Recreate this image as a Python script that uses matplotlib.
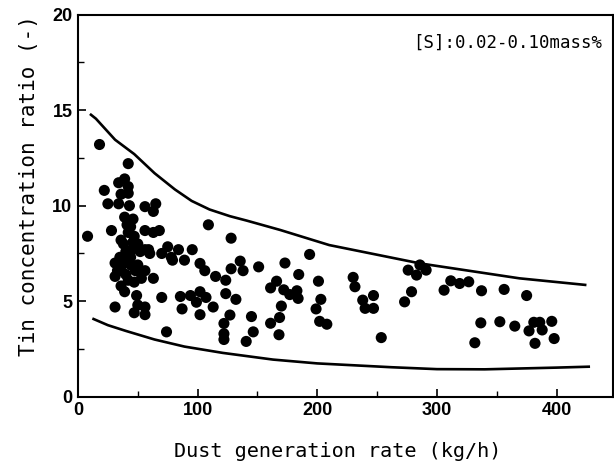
import matplotlib
matplotlib.use("Agg")
import matplotlib.pyplot as plt
from matplotlib.ticker import MultipleLocator
from matplotlib import font_manager

# Scatter data: dust generation rate (kg/h) vs tin concentration ratio (-)
rate = [8, 18, 22, 25, 28, 31, 31, 31, 34, 34, 36, 36, 36, 36, 39, 39, 39,
        42, 42, 42, 42, 42, 42, 43, 45, 46, 47, 49, 50, 50, 50, 47, 53,
        56, 56, 56, 56, 56, 56, 63, 63, 63, 65, 68, 70, 70, 75, 78, 74,
        33, 40, 44, 38, 47, 60,
        38, 44, 40, 46, 41, 44, 35, 48, 52, 59,
        84, 79, 89, 95.5, 85.6, 87, 94, 102, 102, 99, 107, 113, 102, 106,
        109, 115, 123.5, 128, 128, 135.6, 138, 123.5, 132, 127, 122, 122,
        122, 145, 146.5, 140.6, 151, 161, 166, 173, 161, 168.5, 168, 170,
        177, 183, 184, 184.5, 193.6, 172, 201, 203, 199, 202, 208,
        230, 231.5, 238, 240, 247, 247, 253.5, 273, 278.8, 276, 283,
        285.8, 291, 306, 311.6, 319, 326.6, 337.3, 336.7, 331.7, 356.2,
        352.6, 365.1, 375, 377, 381, 382, 386, 388, 396, 398]
ratio = [8.4, 13.2, 10.8, 10.1, 8.7, 7.0, 6.3, 4.7, 11.2, 10.1, 10.6, 8.2,
         6.6, 5.8, 11.4, 9.4, 5.5, 12.2, 11.0, 10.65, 8.6, 7.2, 6.1, 10.0,
         7.7, 9.3, 8.4, 5.3, 8.0, 6.9, 4.8, 4.4, 6.2, 9.95, 8.7, 7.7, 6.6,
         4.7, 4.3, 9.7, 8.6, 6.2, 10.1, 8.7, 7.5, 5.2, 7.85, 7.3, 3.4,
         6.6, 7.6, 8.9, 7.0, 6.0, 7.5,
         8.0, 7.3, 6.4, 8.1, 9.0, 6.9, 7.3, 6.6, 7.6, 7.7,
         7.7, 7.15, 7.15, 7.7, 5.25, 4.6, 5.3, 5.5, 4.3, 4.95, 5.2, 4.7,
         6.98, 6.6, 9.0, 6.3, 6.1, 8.3, 6.7, 7.1, 6.6, 5.4, 5.1, 4.28,
         3.84, 3.3, 3.0, 4.2, 3.4, 2.9, 6.8, 5.7, 6.05, 7.0, 3.85, 4.15,
         3.25, 4.75, 5.35, 5.55, 5.15, 6.4, 7.45, 5.6, 6.05, 5.1, 4.6,
         3.95, 3.8, 6.25, 5.76, 5.06, 4.63, 4.63, 5.3, 3.1, 4.97, 5.5,
         6.63, 6.37, 6.9, 6.63, 5.58, 6.07, 5.93, 6.02, 5.55, 3.87, 2.83,
         5.62, 3.93, 3.7, 5.3, 3.45, 3.9, 2.8, 3.9, 3.5, 3.95, 3.05]

# Upper and lower envelope curves
upper_x = [10, 15, 31, 47, 64, 81, 95, 110, 127, 141, 169, 210, 286, 369, 425]
upper_y = [14.8, 14.55, 13.45, 12.7, 11.7, 10.85, 10.25, 9.8, 9.45, 9.22,
           8.73, 7.94, 6.98, 6.2, 5.85]
lower_x = [12, 25, 40, 64, 89, 121, 163, 200, 262, 300, 340, 400, 428]
lower_y = [4.1, 3.75, 3.45, 3.0, 2.63, 2.3, 1.95, 1.75, 1.55, 1.45, 1.44,
           1.53, 1.58]

x_ticks = [0, 100, 200, 300, 400]
y_ticks = [0, 5, 10, 15, 20]
x_label = "Dust generation rate (kg/h)"
y_label = "Tin concentration ratio (-)"
note = "[S]:0.02-0.10mass%"


def pick_font(cands):
    for c in cands:
        try:
            font_manager.findfont(c, fallback_to_default=False)
            return c
        except Exception:
            pass
    return "DejaVu Sans"


tick_family = pick_font(["Liberation Sans Narrow", "Liberation Sans"])

fig = plt.figure(figsize=(6.14, 4.68), dpi=100)
ax = fig.add_axes([0.127, 0.152, 0.871, 0.817])

ax.plot(upper_x, upper_y, color="black", lw=1.9, solid_capstyle="butt")
ax.plot(lower_x, lower_y, color="black", lw=1.9, solid_capstyle="butt")
ax.scatter(rate, ratio, s=64, color="black", edgecolors="none", zorder=3)

ax.set_xlim(0, 447)
ax.set_ylim(0, 20)
ax.set_xticks(x_ticks)
ax.set_yticks(y_ticks)
ax.xaxis.set_minor_locator(MultipleLocator(50))
ax.yaxis.set_minor_locator(MultipleLocator(2.5))
ax.tick_params(which="major", direction="in", length=6, width=1.2,
               top=False, right=False, pad=4)
ax.tick_params(which="minor", direction="in", length=4, width=1.0,
               top=False, right=False)

for lab in ax.get_xticklabels() + ax.get_yticklabels():
    lab.set_family(tick_family)
    lab.set_fontsize(14 if tick_family == "Liberation Sans Narrow" else 13)
    lab.set_fontweight("bold")

for sp in ax.spines.values():
    sp.set_linewidth(1.5)

ax.set_xlabel(x_label, family="DejaVu Sans Mono", fontsize=14.5)
ax.xaxis.set_label_coords(0.486, -0.118)
ax.set_ylabel(y_label, family="DejaVu Sans Mono", fontsize=15)
ax.yaxis.set_label_coords(-0.072, 0.553)

ax.text(438, 18.5, note, ha="right", va="center",
        family="DejaVu Sans Mono", fontsize=12.5)

fig.savefig("out.png", dpi=100)
